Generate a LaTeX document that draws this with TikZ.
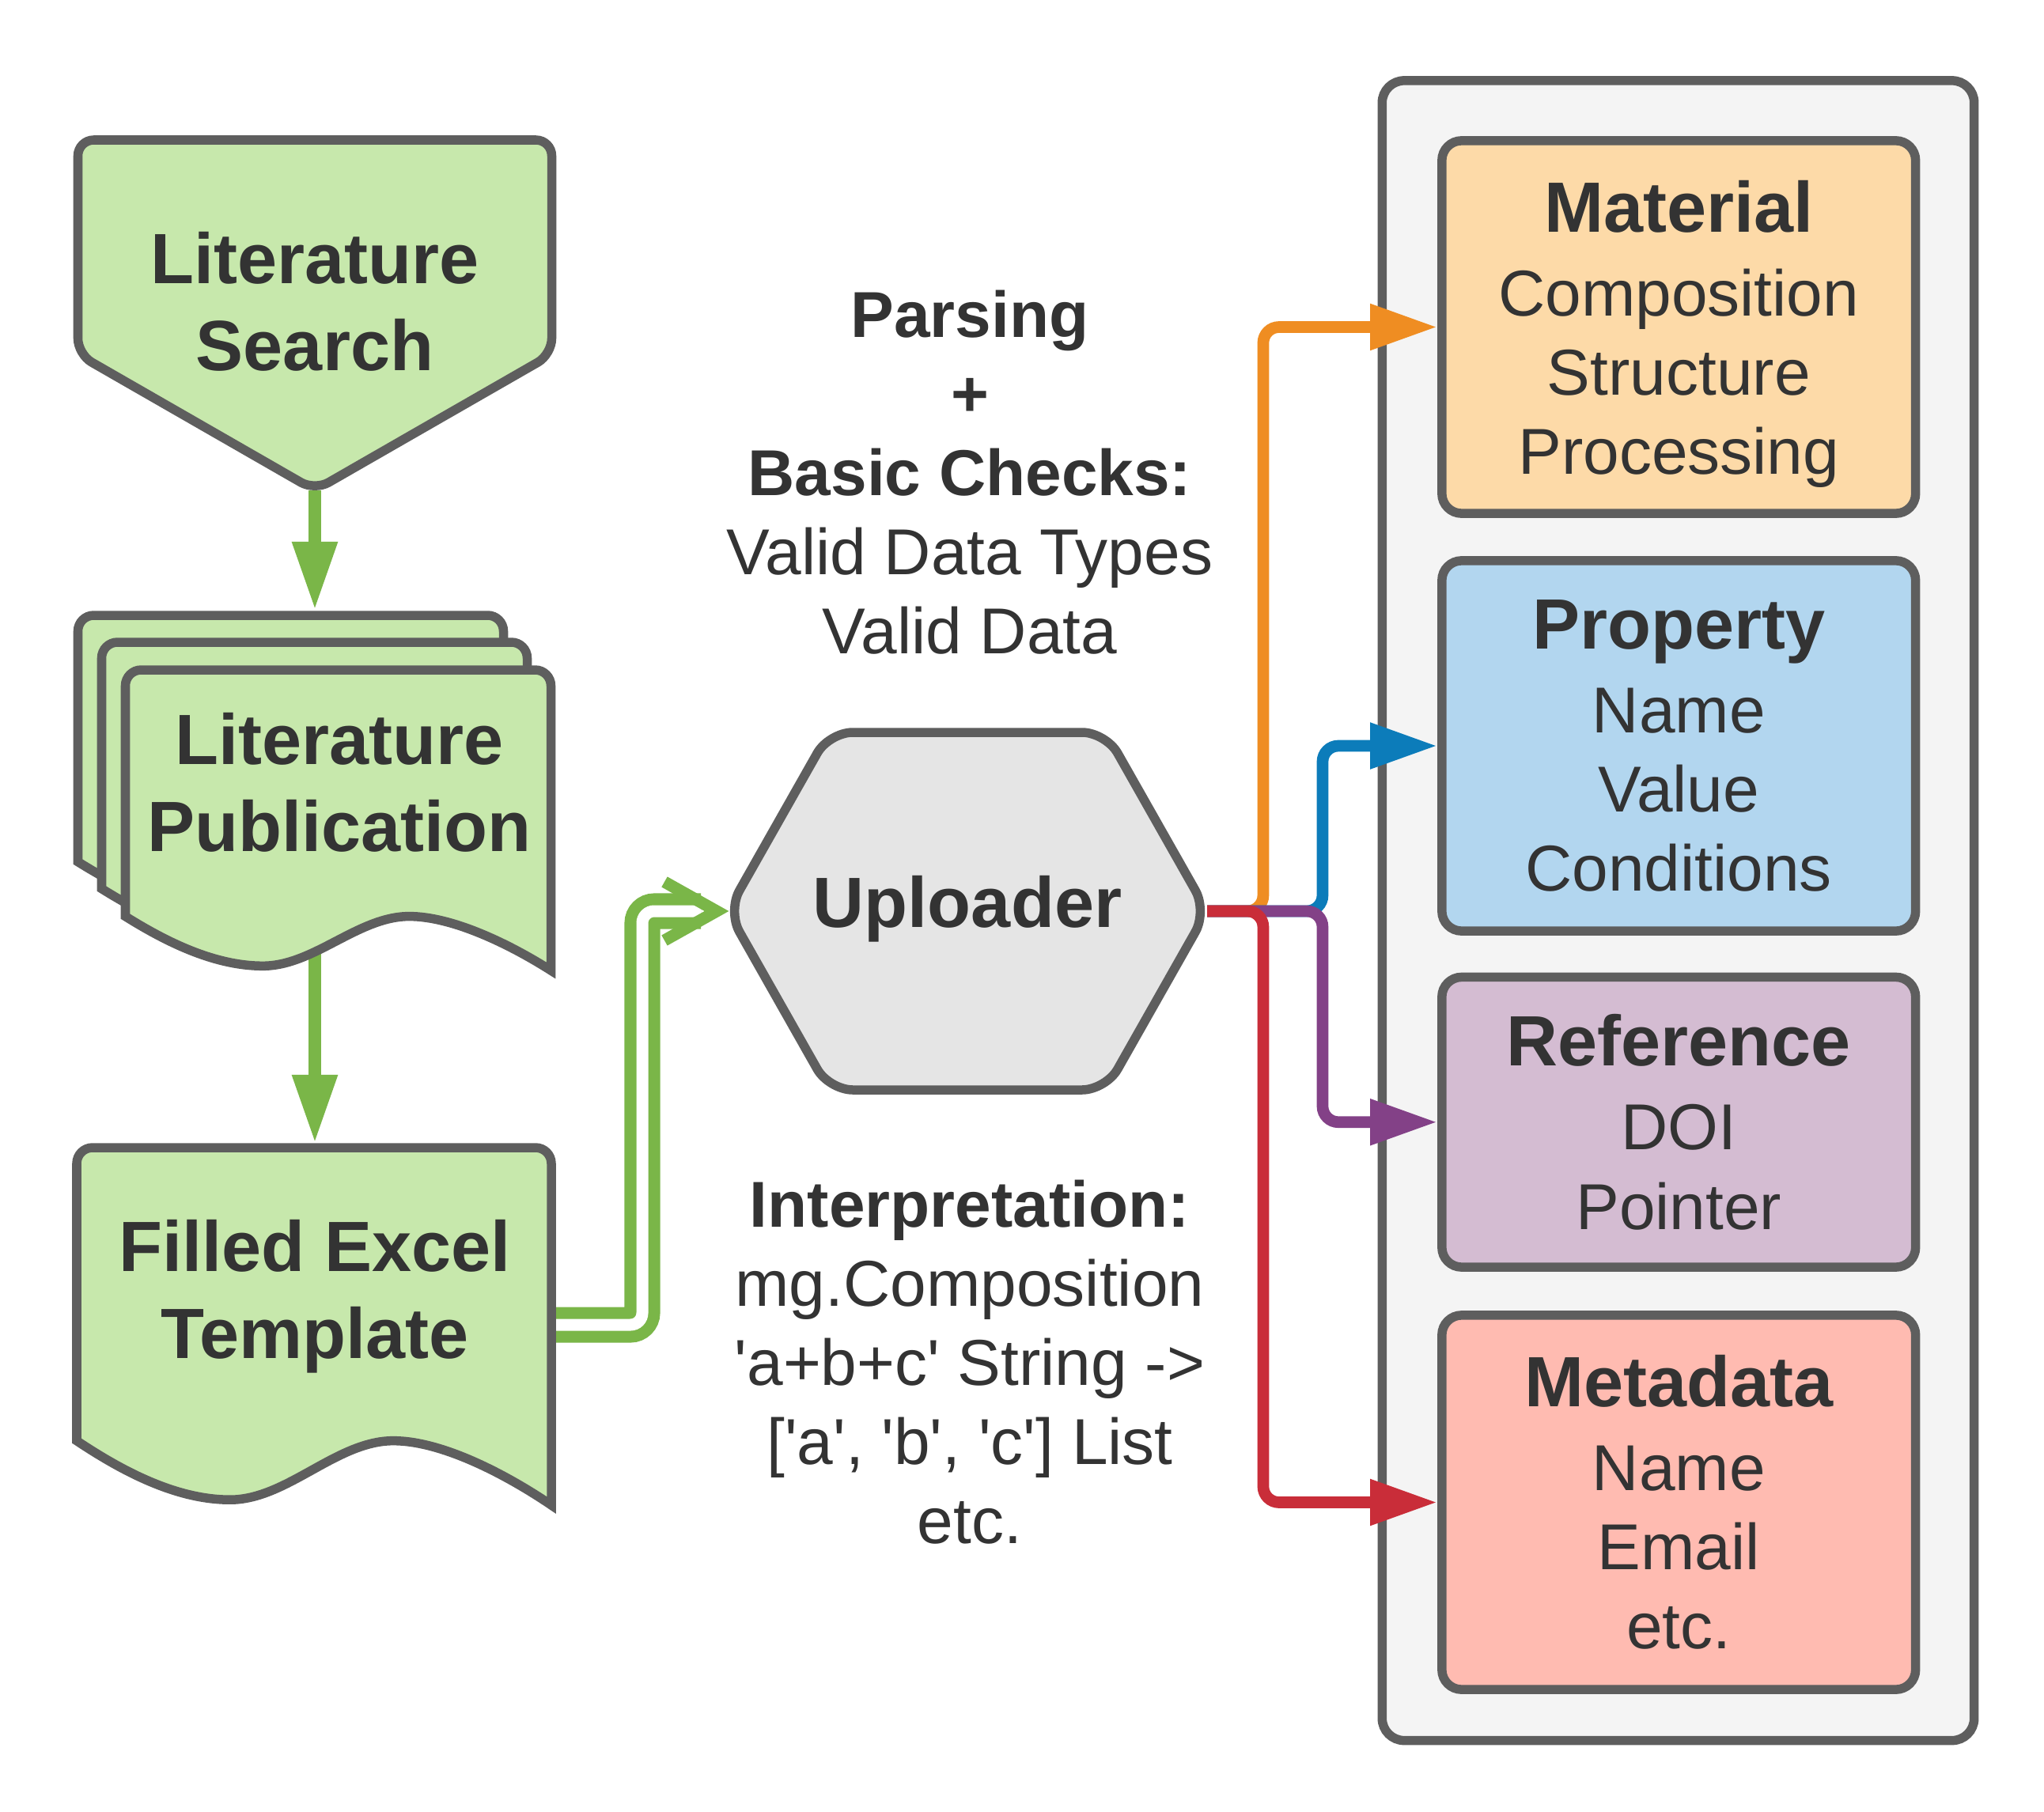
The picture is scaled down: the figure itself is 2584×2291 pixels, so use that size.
\documentclass[tikz,border=0pt]{standalone}
\usepackage{fontspec}
\setmainfont{Liberation Sans}
\usetikzlibrary{arrows.meta,calc}
\definecolor{gstroke}{HTML}{5E5E5E}
\definecolor{gfill}{HTML}{C7E8AC}
\definecolor{gline}{HTML}{7AB648}
\definecolor{txt}{HTML}{333333}
\definecolor{cont}{HTML}{F4F4F4}
\definecolor{hexfill}{HTML}{E5E5E5}
\definecolor{matfill}{HTML}{FDDAA8}
\definecolor{propfill}{HTML}{B2D6EF}
\definecolor{reffill}{HTML}{D4BCD2}
\definecolor{metafill}{HTML}{FFBBB1}
\definecolor{corange}{HTML}{EF8D22}
\definecolor{cblue}{HTML}{0C7CBA}
\definecolor{cpurple}{HTML}{834187}
\definecolor{cred}{HTML}{C92D39}
\newcommand{\bodyf}{\fontsize{23.33pt}{28.45pt}\selectfont}
\newcommand{\titlef}{\fontsize{25.6pt}{31.3pt}\selectfont\bfseries}
\newcommand{\boxtitle}{\fontsize{25.6pt}{28.45pt}\selectfont\bfseries}
\newcommand{\sq}{\textquotesingle}
% #1 options, #2 x0, #3 y0, #4 W, #5 H
\newcommand\docshape[5]{%
  \draw[#1] ({#2},{#3+0.82*#5}) [rounded corners=2mm] -- ({#2},{#3}) -- ({#2+#4},{#3}) [sharp corners] -- ({#2+#4},{#3+#5})
  .. controls ({#2+0.9*#4},{#3+0.91*#5}) and ({#2+0.767*#4},{#3+0.82*#5}) .. ({#2+0.667*#4},{#3+0.82*#5})
  .. controls ({#2+0.547*#4},{#3+0.82*#5}) and ({#2+0.443*#4},{#3+0.985*#5}) .. ({#2+0.323*#4},{#3+0.985*#5})
  .. controls ({#2+0.203*#4},{#3+0.985*#5}) and ({#2+0.085*#4},{#3+0.895*#5}) .. ({#2},{#3+0.82*#5})
  -- cycle;}
\begin{document}
\begin{tikzpicture}[x=0.01cm,y=-0.01cm,
  shapeline/.style={draw=gstroke, line width=1.15mm},
  greenshape/.style={shapeline, fill=gfill},
  garrow/.style={draw=gline, line width=1.5mm, -{Triangle[length=8.6mm,width=5.4mm]}},
  conn/.style={line width=1.47mm, rounded corners=2mm, -{Triangle[length=8.5mm,width=5.5mm]}},
  dbl/.style={draw=gline, line width=1.5mm, double=white, double distance=1.5mm, rounded corners=1.5mm},
  chev/.style={draw=gline, line width=1.5mm},
  entity/.style={shapeline, rounded corners=2.5mm, minimum width=59.85mm, align=center, text=txt, font=\bodyf, inner sep=0pt},
  txtblock/.style={align=center, text=txt, inner sep=0pt},
]
\useasboundingbox (0,0) rectangle (2584,2291);

% named points of drawn shapes
\coordinate (lsTip) at (398,620);
\coordinate (pubTop) at (398,771);
\coordinate (pubBot) at (398,1205);
\coordinate (exTop) at (398,1445);
\coordinate (exR) at (702,1675);
\coordinate (upL) at (920,1152);
\coordinate (upR) at (1526,1152);

% right panel
\node[shapeline, fill=cont, rounded corners=2.8mm, minimum width=74.8mm, minimum height=209.75mm, inner sep=0pt] (panel) at (2121.5,1151.25) {};

% entity boxes
\node[entity, fill=matfill, minimum height=47.1mm] (mat) at (2122.25,413.5)
  {{\boxtitle Material}\\[0.6mm] Composition\\ Structure\\ \smash{Processing}};
\node[entity, fill=propfill, minimum height=46.8mm] (prop) at (2122.25,943)
  {{\boxtitle Property}\\[0.6mm] Name\\ Value\\ Conditions};
\node[entity, fill=reffill, minimum height=36.65mm] (ref) at (2122.25,1418.75)
  {{\boxtitle Reference}\\[0.6mm] DOI\\ Pointer};
\node[entity, fill=metafill, minimum height=47.3mm] (meta) at (2122.25,1899.5)
  {{\boxtitle Metadata}\\[0.6mm] Name\\ Email\\ etc.};

% coloured connectors
\draw[conn, corange] (upR) -| ([xshift=-22mm]mat.west) -- (mat.west);
\draw[conn, cblue] (upR) -| ([xshift=-14.5mm]prop.west) -- (prop.west);
\draw[conn, cpurple] (upR) -| ([xshift=-14.5mm]ref.west) -- (ref.west);
\draw[conn, cred] (upR) -| ([xshift=-22mm]meta.west) -- (meta.west);

% uploader hexagon
\draw[shapeline, fill=hexfill, rounded corners=3mm] (upL) -- (1048,926) -- (1398,926) -- (upR) -- (1398,1378) -- (1048,1378) -- cycle;
\node[txtblock, font=\titlef] (up) at (1223,1149) {Uploader};

% green connectors
\draw[garrow] (lsTip) -- (pubTop);
\draw[garrow] (pubBot) -- (exTop);
\draw[dbl] (exR) -| ($(upL)+(-108,0)$) -- ($(upL)+(-34,0)$);
\draw[chev] ($(upL)+(-80,-37)$) -- ($(upL)+(-14,0)$) -- ($(upL)+(-80,37)$);

% literature search (off-page connector)
\draw[greenshape, rounded corners=2mm] (98.5,448) -- (98.5,177) -- (697.5,177) -- (697.5,448) -- (lsTip) -- cycle;
\node[txtblock, font=\titlef] (ls) at (398,381) {Literature\\Search};

% literature publication (stack of documents)
\docshape{greenshape}{98.5}{778}{538}{380}
\docshape{greenshape}{128.5}{812}{538}{380}
\docshape{greenshape}{158.5}{847}{538}{380}
\node[txtblock, font=\titlef] (pub) at (429,989) {Literature\\Publication};

% filled excel template (document)
\docshape{greenshape}{97}{1451}{600}{452}
\node[txtblock, font=\titlef] (excel) at (398,1639) {Filled Excel\\Template};

% annotations
\node[txtblock, font=\bodyf] (parse) at (1226,597)
  {\textbf{Parsing}\\ \textbf{+}\\ \textbf{Basic Checks:}\\ Valid Data Types\\ Valid Data};
\node[txtblock, font=\bodyf] (interp) at (1226,1722)
  {\textbf{Interpretation:}\\ mg.Composition\\ \sq a+b+c\sq{} String ->\\ {[}\sq a\sq, \sq b\sq, \sq c\sq{]} List\\ etc.};
\end{tikzpicture}
\end{document}
